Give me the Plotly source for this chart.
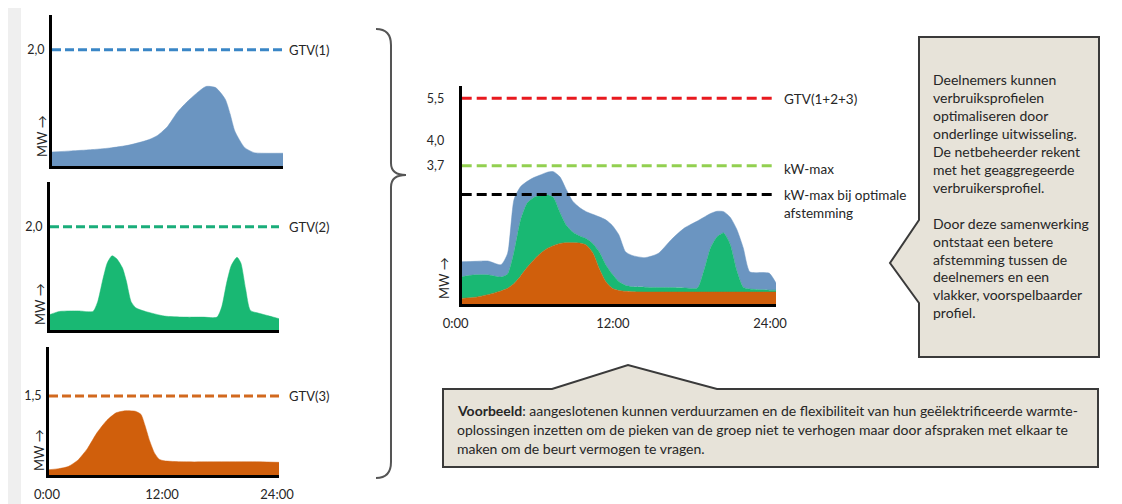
import plotly.graph_objects as go

W, H = 1122, 504
OFF = 8  # page body margin of the viewer; shift everything so it lands where the reference has it
FONT = "Lato"

# ---------------- data ----------------
# Panel 1 (blue participant)
p1_t = [0, 2, 4, 6, 8, 10, 11, 12, 13, 14, 15, 16, 17, 18, 18.5, 19, 20, 21, 22, 24]
p1_v = [0.24, 0.26, 0.28, 0.31, 0.36, 0.45, 0.53, 0.68, 0.92, 1.1, 1.25, 1.37, 1.35, 1.15, 0.9, 0.6, 0.32, 0.23, 0.22, 0.22]
p1_gtv = 2.0

# Panel 2 (green participant)
p2_t = [0, 1, 3, 4.5, 5, 5.5, 6, 6.5, 7, 7.6, 8, 8.5, 9, 10, 12, 14, 16, 17.5, 18, 18.5, 19, 19.6, 20, 20.5, 21, 22, 23, 24]
p2_v = [0.3, 0.36, 0.37, 0.36, 0.55, 0.95, 1.3, 1.44, 1.38, 1.2, 0.95, 0.55, 0.43, 0.36, 0.27, 0.25, 0.25, 0.25, 0.45, 0.9, 1.25, 1.41, 1.3, 0.8, 0.38, 0.32, 0.27, 0.22]
p2_gtv = 2.0

# Panel 3 (orange participant)
p3_t = [0, 1, 2, 3, 4, 5, 6, 7, 8, 9, 9.6, 10, 10.5, 11, 11.5, 12, 14, 18, 22, 24]
p3_v = [0.1, 0.12, 0.16, 0.28, 0.5, 0.8, 1.03, 1.18, 1.22, 1.21, 1.15, 0.95, 0.65, 0.42, 0.3, 0.27, 0.25, 0.25, 0.25, 0.24]
p3_gtv = 1.5

# Aggregated chart: upper edge of each stacked layer
agg_t = [0, 1, 2, 3, 3.5, 4, 4.5, 5, 5.5, 6, 6.5, 7, 7.5, 8, 8.5, 9, 9.5, 10, 10.5, 11, 11.5, 12, 12.5, 13,
         14, 15, 16, 17, 18, 18.5, 19, 19.5, 20, 20.5, 21, 21.5, 22, 23, 23.5, 24]
agg_orange_top = [0.15, 0.18, 0.25, 0.35, 0.42, 0.55, 0.75, 0.98, 1.18, 1.35, 1.48, 1.56, 1.62, 1.64, 1.64, 1.63, 1.58, 1.38, 0.95, 0.6, 0.42, 0.36, 0.34, 0.33,
                  0.32, 0.32, 0.32, 0.32, 0.32, 0.32, 0.32, 0.32, 0.32, 0.32, 0.32, 0.32, 0.32, 0.32, 0.32, 0.32]
agg_green_top = [0.73, 0.78, 0.78, 0.72, 0.8, 1.4, 2.25, 2.7, 2.85, 2.9, 2.92, 2.85, 2.45, 2.1, 1.92, 1.82, 1.75, 1.62, 1.4, 1.05, 0.8, 0.6, 0.5, 0.46,
                 0.45, 0.44, 0.44, 0.43, 0.43, 0.9, 1.5, 1.8, 1.9, 1.6, 0.9, 0.45, 0.4, 0.38, 0.37, 0.37]
agg_blue_top = [1.13, 1.14, 1.15, 1.05, 1.35, 2.8, 3.14, 3.28, 3.38, 3.45, 3.52, 3.54, 3.4, 3.05, 2.74, 2.58, 2.47, 2.4, 2.33, 2.25, 2.1, 1.85, 1.4, 1.3,
                1.24, 1.35, 1.72, 2.03, 2.22, 2.32, 2.42, 2.48, 2.47, 2.32, 2.0, 1.5, 0.86, 0.84, 0.82, 0.56]
agg_gtv = 5.5
agg_kwmax = 3.7
agg_kwmax_opt = 2.93

# Tick labels
time_tickvals = [0, 12, 24]
time_ticktext = ["0:00", "12:00", "24:00"]
agg_tickvals = [5.5, 4.38, 3.7]
agg_ticktext = ["5,5", "4,0", "3,7"]

right_box_lines = ["Deelnemers kunnen", "verbruiksprofielen", "optimaliseren door", "onderlinge uitwisseling.",
                   "De netbeheerder rekent", "met het geaggregeerde", "verbruikersprofiel.", "",
                   "Door deze samenwerking", "ontstaat een betere", "afstemming tussen de",
                   "deelnemers en een", "vlakker, voorspelbaarder", "profiel."]
bottom_box_lines = ["<b>Voorbeeld</b>: aangeslotenen kunnen verduurzamen en de flexibiliteit van hun geëlektrificeerde warmte-",
                    "oplossingen inzetten om de pieken van de groep niet te verhogen maar door afspraken met elkaar te",
                    "maken om de beurt vermogen te vragen."]

# ---------------- styling ----------------
BLUE = "#6b95c1"
GREEN = "#19b873"
ORANGE = "#d05f0c"
TXT = "#262626"


def px(x):
    return (x - OFF) / W


def py(y):
    return 1 - (y - OFF) / H


fig = go.Figure()

# Subplot geometry (pixels): (x0, x1, ytop, ybottom, ymax)
panels = {
    "1": (52, 283, 15, 166, 2.6),
    "2": (50, 279, 182, 330, 2.87),
    "3": (49, 279, 347, 475, 2.43),
    "4": (461.7, 776, 86, 304, 5.83),
}


def add_area(x, y, color, ax, fill="tozeroy"):
    fig.add_trace(go.Scatter(x=x, y=y, mode="lines", fill=fill, fillcolor=color,
                             line=dict(color=color, width=0.5, shape="spline", smoothing=0.6),
                             xaxis="x" + ax, yaxis="y" + ax, hoverinfo="skip"))


def add_hline(v, color, ax, dash, width=3):
    fig.add_trace(go.Scatter(x=[0, 24], y=[v, v], mode="lines",
                             line=dict(color=color, width=width, dash=dash),
                             xaxis="x" + ax, yaxis="y" + ax, hoverinfo="skip"))


add_area(p1_t, p1_v, BLUE, "1")
add_hline(p1_gtv, "#3a86c6", "1", "9px,4px")
add_area(p2_t, p2_v, GREEN, "2")
add_hline(p2_gtv, "#1aad7a", "2", "9px,4px")
add_area(p3_t, p3_v, ORANGE, "3")
add_hline(p3_gtv, "#d2691e", "3", "9px,4px")

add_area(agg_t, agg_orange_top, ORANGE, "4")
add_area(agg_t, agg_green_top, GREEN, "4", fill="tonexty")
add_area(agg_t, agg_blue_top, BLUE, "4", fill="tonexty")
add_hline(agg_gtv, "#e8191e", "4", "10px,5px")
add_hline(agg_kwmax, "#92d050", "4", "10px,5px")
add_hline(agg_kwmax_opt, "#000000", "4", "10px,5px")

layout = dict(
    width=W, height=H, margin=dict(l=0, r=0, t=0, b=0, autoexpand=False),
    paper_bgcolor="#efefef", plot_bgcolor="rgba(0,0,0,0)",
    showlegend=False, hovermode=False,
    font=dict(family=FONT, size=12, color=TXT),
)

ytick_cfg = {
    "1": ([p1_gtv], ["2,0"]),
    "2": ([p2_gtv], ["2,0"]),
    "3": ([p3_gtv], ["1,5"]),
    "4": (agg_tickvals, agg_ticktext),
}

for k, (x0, x1, yt, yb, ymax) in panels.items():
    sfx = "" if k == "1" else k
    tv, tt = ytick_cfg[k]
    show_x = k in ("3", "4")
    layout["xaxis" + sfx] = dict(
        domain=[px(x0), px(x1)], range=[0, 24], anchor="y" + k, automargin=False,
        showgrid=False, zeroline=False, showline=True, linecolor="black", linewidth=3,
        showticklabels=show_x, tickvals=time_tickvals, ticktext=time_ticktext, ticks="",
        tickfont=dict(family=FONT, size=13, color=TXT),
        ticklabelstandoff=5, ticklabelshift=-6 if k == "4" else -2,
        fixedrange=True,
    )
    layout["yaxis" + sfx] = dict(
        domain=[py(yb), py(yt)], range=[0, ymax], anchor="x" + k, automargin=False,
        showgrid=False, zeroline=False, showline=True, linecolor="black", linewidth=3,
        tickvals=tv, ticktext=tt, ticks="",
        tickfont=dict(family=FONT, size=12.5, color=TXT),
        ticklabelstandoff=12 if k == "4" else 2,
        fixedrange=True,
    )

fig.update_layout(**layout)

shapes = []
# white card
shapes.append(dict(type="rect", xref="paper", yref="paper", x0=px(21), x1=px(1115), y0=py(530), y1=py(5),
                   fillcolor="white", line=dict(width=0), layer="below"))


def path(pts, close=True):
    s = "M " + " L ".join(f"{px(a):.5f},{py(b):.5f}" for a, b in pts)
    return s + (" Z" if close else "")


# right text box with left-pointing notch
shapes.append(dict(type="path", xref="paper", yref="paper",
                   path=path([(919, 37), (1099, 37), (1099, 357), (919, 357), (919, 303), (890, 263), (919, 220)]),
                   fillcolor="#e7e3d9", line=dict(color="#3a3a3a", width=2)))
# bottom text box with upward notch
shapes.append(dict(type="path", xref="paper", yref="paper",
                   path=path([(443, 389), (552, 389), (628, 365), (717, 389), (1098, 389), (1098, 467), (443, 467)]),
                   fillcolor="#e7e3d9", line=dict(color="#3a3a3a", width=2)))


# curly brace
def P(a, b):
    return f"{px(a):.5f},{py(b):.5f}"


brace = (f"M {P(376, 29)} Q {P(391, 29)} {P(391, 45)} L {P(391, 163)} Q {P(391, 175)} {P(406, 175)} "
         f"Q {P(391, 175)} {P(391, 187)} L {P(391, 462)} Q {P(391, 478)} {P(376, 478)}")
shapes.append(dict(type="path", xref="paper", yref="paper", path=brace,
                   line=dict(color="#555555", width=2)))
fig.update_layout(shapes=shapes)

ann = []


def note(text, x, y, size=12, anchor="left", angle=0, color=TXT):
    ann.append(dict(text=text, x=px(x), y=py(y), xref="paper", yref="paper", showarrow=False,
                    xanchor=anchor, yanchor="middle", textangle=angle,
                    font=dict(family=FONT, size=size, color=color)))


# series labels
note("GTV(1)", 287, 50, 13)
note("GTV(2)", 287, 227, 13)
note("GTV(3)", 287, 396, 13)
note("GTV(1+2+3)", 782, 99, 13.5)
note("kW-max", 782, 169, 13.5)
note("kW-max bij optimale", 782, 195, 13.5)
note("afstemming", 782, 213, 13.5)

# MW axis labels
for (x, y) in [(42, 136), (40, 304), (39, 450), (444, 278)]:
    note("MW →", x, y, 13, anchor="center", angle=-90)

# text boxes
for i, line in enumerate(right_box_lines):
    if line:
        note(line, 931, 80 + i * 17.9, 14)
for i, line in enumerate(bottom_box_lines):
    note(line, 455, 410 + i * 19, 14)

fig.update_layout(annotations=ann)

fig.write_html("out.html")
